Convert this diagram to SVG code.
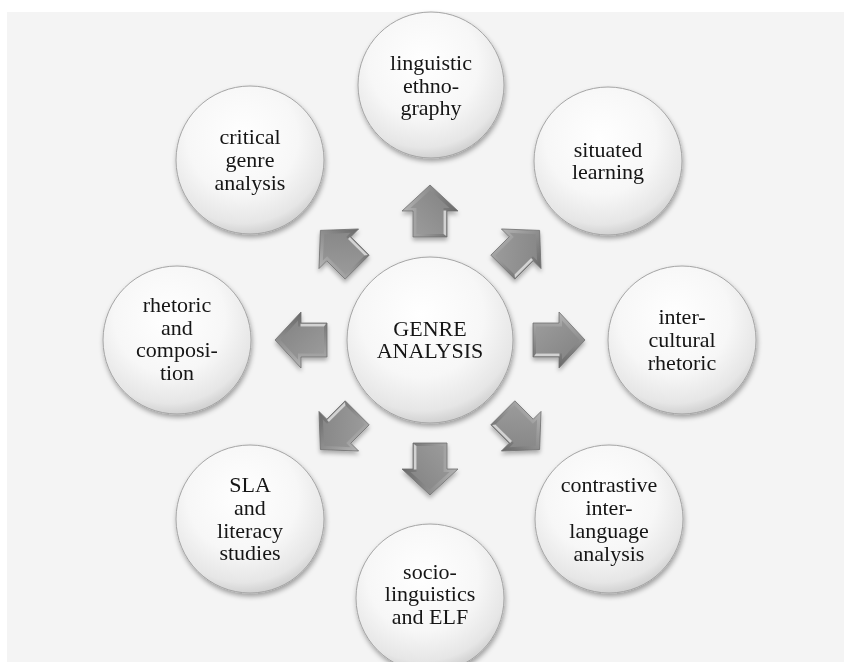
<svg xmlns="http://www.w3.org/2000/svg" xmlns:xlink="http://www.w3.org/1999/xlink" width="844" height="662" viewBox="0 0 844 662">
<defs>
<radialGradient id="ball" cx="0.45" cy="0.35" r="0.68">
<stop offset="0" stop-color="#ffffff"/>
<stop offset="0.55" stop-color="#f7f7f7"/>
<stop offset="0.85" stop-color="#e6e6e6"/>
<stop offset="0.97" stop-color="#cfcfcf"/>
<stop offset="1" stop-color="#b0b0b0"/>
</radialGradient>
<linearGradient id="arrOuter" x1="0" y1="0" x2="0" y2="1">
<stop offset="0" stop-color="#b4b4b4"/>
<stop offset="0.5" stop-color="#8e8e8e"/>
<stop offset="1" stop-color="#686868"/>
</linearGradient>
<linearGradient id="arrInner" x1="0" y1="0" x2="1" y2="1">
<stop offset="0" stop-color="#9c9c9c"/>
<stop offset="1" stop-color="#838383"/>
</linearGradient>
<filter id="shadow" x="-20%" y="-20%" width="140%" height="150%">
<feDropShadow dx="1" dy="3" stdDeviation="2.5" flood-color="#000" flood-opacity="0.35"/>
</filter>
<filter id="ashadow" x="-10%" y="-10%" width="120%" height="130%">
<feDropShadow dx="0" dy="3" stdDeviation="2" flood-color="#000" flood-opacity="0.3"/>
</filter>
<g id="arrow">
<path d="M103,-17 L129,-17 L129,-28 L155,0 L129,28 L129,17 L103,17 Z" fill="url(#arrOuter)" stroke="#707070" stroke-width="0.8"/>
<path d="M106,-13.5 L132,-13.5 L132,-19.5 L149.5,0 L132,19.5 L132,13.5 L106,13.5 Z" fill="url(#arrInner)"/>
<path d="M106,13.5 L129.5,13.5 L129.5,16.2 L104,16.2 Z" fill="#e2e2e2" opacity="0.85"/>
</g>
<style>
.ball { fill: url(#ball); stroke: #a4a4a4; stroke-width: 1; }
.lbl { font-family: "Liberation Serif", "Times New Roman", serif; font-size: 22px; fill: #141414; text-anchor: middle; }
</style>
</defs>
<rect x="0" y="0" width="844" height="662" fill="#ffffff"/>
<rect x="7" y="12" width="837" height="650" fill="#f4f4f4"/>

<g id="connectors" filter="url(#ashadow)">
<use xlink:href="#arrow" transform="translate(430 340) rotate(270)"/>
<use xlink:href="#arrow" transform="translate(430 340) rotate(315)"/>
<use xlink:href="#arrow" transform="translate(430 340) rotate(0)"/>
<use xlink:href="#arrow" transform="translate(430 340) rotate(45)"/>
<use xlink:href="#arrow" transform="translate(430 340) rotate(90)"/>
<use xlink:href="#arrow" transform="translate(430 340) rotate(135)"/>
<use xlink:href="#arrow" transform="translate(430 340) rotate(180)"/>
<use xlink:href="#arrow" transform="translate(430 340) rotate(225)"/>
</g>

<g id="node-center" filter="url(#shadow)">
<circle class="ball" cx="430" cy="340" r="83"/>
<text class="lbl"><tspan x="430" y="336">GENRE</tspan><tspan x="430" y="358">ANALYSIS</tspan></text>
</g>

<g id="node-linguistic-ethnography" filter="url(#shadow)">
<circle class="ball" cx="431" cy="85" r="73"/>
<text class="lbl"><tspan x="431" y="70">linguistic</tspan><tspan x="431" y="92.5">ethno-</tspan><tspan x="431" y="115">graphy</tspan></text>
</g>

<g id="node-situated-learning" filter="url(#shadow)">
<circle class="ball" cx="608" cy="161" r="74"/>
<text class="lbl"><tspan x="608" y="157">situated</tspan><tspan x="608" y="179">learning</tspan></text>
</g>

<g id="node-intercultural-rhetoric" filter="url(#shadow)">
<circle class="ball" cx="682" cy="340" r="74"/>
<text class="lbl"><tspan x="682" y="324">inter-</tspan><tspan x="682" y="347">cultural</tspan><tspan x="682" y="370">rhetoric</tspan></text>
</g>

<g id="node-contrastive" filter="url(#shadow)">
<circle class="ball" cx="609" cy="519" r="74"/>
<text class="lbl"><tspan x="609" y="492">contrastive</tspan><tspan x="609" y="515">inter-</tspan><tspan x="609" y="538">language</tspan><tspan x="609" y="561">analysis</tspan></text>
</g>

<g id="node-sociolinguistics" filter="url(#shadow)">
<circle class="ball" cx="430" cy="598" r="74"/>
<text class="lbl"><tspan x="430" y="579">socio-</tspan><tspan x="430" y="601">linguistics</tspan><tspan x="430" y="624">and ELF</tspan></text>
</g>

<g id="node-sla" filter="url(#shadow)">
<circle class="ball" cx="250" cy="519" r="74"/>
<text class="lbl"><tspan x="250" y="492">SLA</tspan><tspan x="250" y="515">and</tspan><tspan x="250" y="538">literacy</tspan><tspan x="250" y="560">studies</tspan></text>
</g>

<g id="node-rhetoric-composition" filter="url(#shadow)">
<circle class="ball" cx="177" cy="340" r="74"/>
<text class="lbl"><tspan x="177" y="312">rhetoric</tspan><tspan x="177" y="335">and</tspan><tspan x="177" y="357">composi-</tspan><tspan x="177" y="380">tion</tspan></text>
</g>

<g id="node-critical-genre" filter="url(#shadow)">
<circle class="ball" cx="250" cy="160" r="74"/>
<text class="lbl"><tspan x="250" y="144">critical</tspan><tspan x="250" y="167">genre</tspan><tspan x="250" y="190">analysis</tspan></text>
</g>
</svg>
